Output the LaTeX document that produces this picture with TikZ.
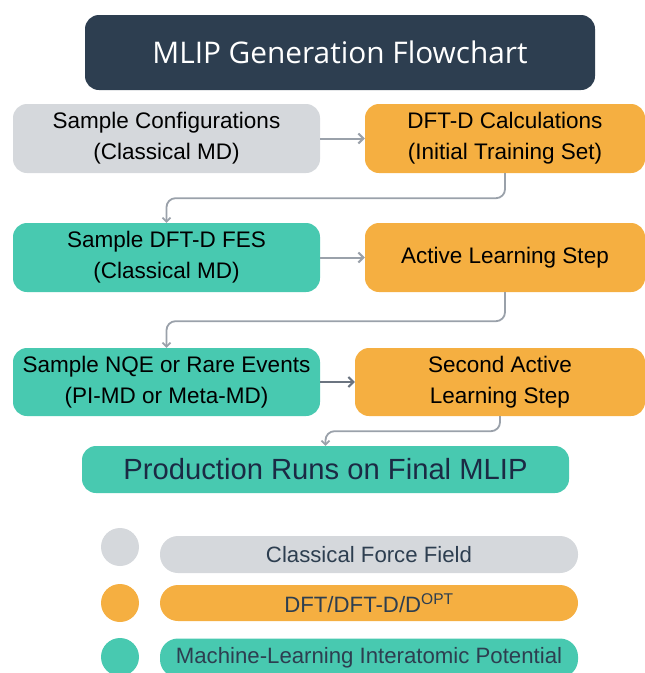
\documentclass[tikz,border=0pt]{standalone}
\usepackage{fontspec}
\setmainfont{Liberation Sans}
\newfontfamily\titlefont{Open Sans}
\usepackage{tikz}
\usetikzlibrary{arrows.meta,positioning}
\definecolor{darkblue}{HTML}{2D3E50}
\definecolor{navytext}{HTML}{1B2A44}
\definecolor{ffgray}{HTML}{D5D8DC}
\definecolor{dftorange}{HTML}{F5AF41}
\definecolor{mlgreen}{HTML}{48C9B0}
\definecolor{linegray}{HTML}{9AA1AA}
\definecolor{linedark}{HTML}{6B7480}

\begin{document}
\begin{tikzpicture}
	[ x=1pt, y=-1pt,
		box/.style={rectangle,rounded corners=14pt,align=center,inner sep=0pt,font=\fontsize{22.5}{31}\selectfont,text=black},
		classical/.style={box,fill=ffgray,minimum width=307pt,minimum height=69pt},
		dft/.style={box,fill=dftorange,minimum width=280pt,minimum height=69pt},
		mlip/.style={box,fill=mlgreen,minimum width=307pt,minimum height=69pt},
		legendbar/.style={rectangle,rounded corners=18pt,minimum width=418pt,minimum height=37pt,inner sep=0pt,text=darkblue,font=\fontsize{22.2}{26}\selectfont},
		legenddot/.style={circle,minimum size=38pt,inner sep=0pt},
		arrowOut/.style={-{Straight Barb[length=5pt,width=10pt]},line width=2pt,draw=linegray},
		arrowDown/.style={-{Straight Barb[length=4pt,width=8pt]},line width=1.8pt,draw=linegray,rounded corners=9pt}]

	\useasboundingbox (0,0) rectangle (645,673);

	\node[box,fill=darkblue,text=white,minimum width=510pt,minimum height=75pt,font=\titlefont\fontsize{29.8}{34}\selectfont] (title) at (340,52.5) {MLIP Generation Flowchart};

	\node[classical] (sample configs) at (166.5,138.5) {Sample Configurations\\(Classical MD)};
	\node[dft] (dft calcs) at (505,138.5) {DFT-D Calculations\\(Initial Training Set)};
	\node[mlip] (sample fes) at (166.5,257.5) {Sample DFT-D FES\\(Classical MD)};
	\node[dft] (active one) at (505,257.5) {Active Learning Step};
	\node[mlip,minimum height=68pt] (sample nqe) at (166.5,382) {Sample NQE or Rare Events\\(PI-MD or Meta-MD)};
	\node[dft,minimum width=290pt,minimum height=68pt] (active two) at (500,382) {Second Active\\Learning Step};
	\node[box,fill=mlgreen,text=navytext,minimum width=487pt,minimum height=47pt,font=\fontsize{29.2}{33}\selectfont] (production) at (325.5,469.5) {Production Runs on Final MLIP};

	\node[legenddot,fill=ffgray] (dot classical) at (120,547) {};
	\node[legenddot,fill=dftorange] (dot dft) at (120,603) {};
	\node[legenddot,fill=mlgreen] (dot mlip) at (120,657) {};
	\node[legendbar,fill=ffgray] (bar classical) at (369,554.5) {Classical Force Field};
	\node[legendbar,fill=dftorange,minimum height=36pt] (bar dft) at (369,603) {DFT/DFT-D/D\textsuperscript{OPT}};
	\node[legendbar,fill=mlgreen,minimum height=39pt] (bar mlip) at (369,658) {Machine-Learning Interatomic Potential};

	\draw[arrowOut] (sample configs) -- (dft calcs);
	\draw[arrowOut] (sample fes) -- (active one);
	\draw[arrowOut,draw=linedark] (sample nqe) -- (active two);
	\draw[arrowDown] (dft calcs.south) -- ++(0,25) -| (sample fes.north);
	\draw[arrowDown] (active one.south) -- ++(0,29) -| (sample nqe.north);
	\draw[arrowDown] (active two.south) -- ++(0,15) -| (production.north);
\end{tikzpicture}
\end{document}
